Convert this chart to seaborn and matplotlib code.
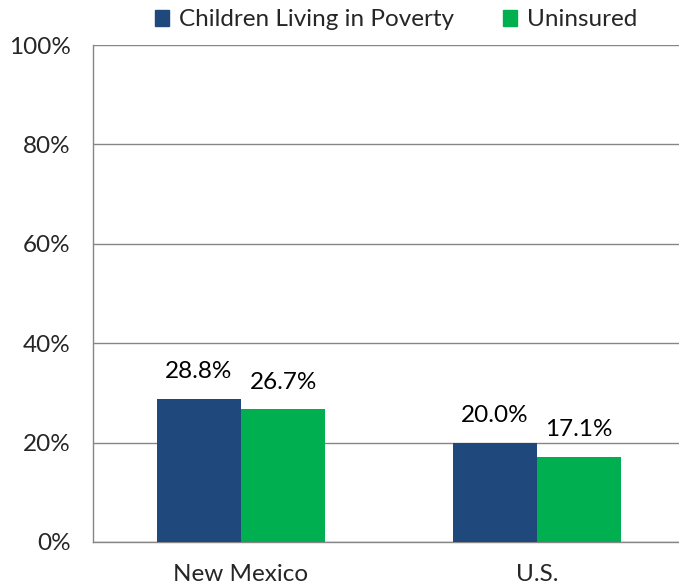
import matplotlib
matplotlib.use("Agg")
import matplotlib.pyplot as plt
import pandas as pd
import seaborn as sns

regions = ["New Mexico", "U.S."]
series = ["Children Living in Poverty", "Uninsured"]
poverty = [28.8, 20.0]
uninsured = [26.7, 17.1]
colors = ["#1F497D", "#00B050"]

df = pd.DataFrame({
    "region": regions * 2,
    "series": [series[0]] * 2 + [series[1]] * 2,
    "value": poverty + uninsured,
})

sns.set_style("white")
plt.rcParams["font.family"] = ["Lato", "DejaVu Sans"]
FS = 17.5

fig = plt.figure(figsize=(6.79, 5.86), dpi=100)
ax = fig.add_axes([93 / 679, 44 / 586, 592 / 679, 497 / 586])

sns.barplot(data=df, x="region", y="value", hue="series", palette=colors,
            width=0.57, saturation=1, linewidth=0, ax=ax, legend=False, zorder=3)

for p in ax.patches:
    h = p.get_height()
    if h <= 0:
        continue
    ax.annotate(f"{h:.1f}%", (p.get_x() + p.get_width() / 2, h),
                xytext=(0, 19.5), textcoords="offset points",
                ha="center", va="center", fontsize=FS, color="black")

ax.set_xlim(-0.5, 1.5)
ax.set_ylim(0, 100)
ax.set_yticks(range(0, 101, 20))
ax.set_yticklabels([f"{v}%" for v in range(0, 101, 20)], fontsize=FS)
ax.yaxis.grid(True, color="#868686", linewidth=1, zorder=0)
ax.set_xlabel("")
ax.set_ylabel("")

ax.set_xticks([0, 1])
ax.set_xticklabels(regions, fontsize=FS)
ax.set_xticks([-0.5, 0.5, 1.5], minor=True)
ax.tick_params(axis="x", which="major", length=0, pad=16)
ax.tick_params(axis="x", which="minor", length=6, color="#868686", width=1)
ax.tick_params(axis="y", length=6, color="#868686", width=1, pad=10)

for s in ["top", "right"]:
    ax.spines[s].set_visible(False)
for s in ["left", "bottom"]:
    ax.spines[s].set_color("#868686")
    ax.spines[s].set_linewidth(1)

handles = [plt.Rectangle((0, 0), 1, 1, color=c) for c in colors]
fig.legend(handles, series, loc="center", bbox_to_anchor=(396 / 679, 1 - 20 / 586),
           ncol=2, frameon=False, fontsize=FS, handlelength=0.6, handleheight=0.6,
           handletextpad=0.4, columnspacing=2.0)

fig.savefig("out.png", dpi=100)
